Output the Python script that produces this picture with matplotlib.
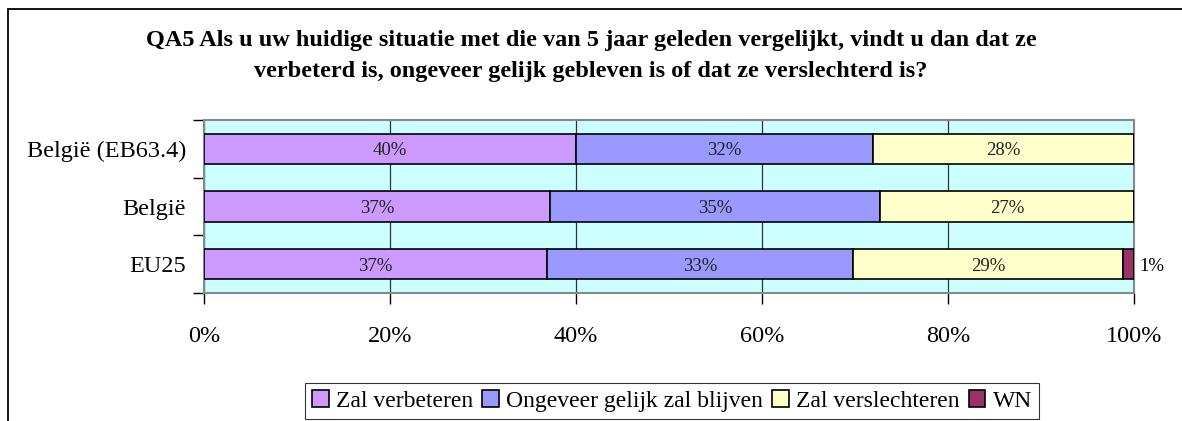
import numpy as np
import matplotlib.pyplot as plt
from matplotlib.patches import Rectangle

plt.rcParams['font.family'] = ['Liberation Serif', 'DejaVu Serif']

categories = ['België (EB63.4)', 'België', 'EU25']
series = ['Zal verbeteren', 'Ongeveer gelijk zal blijven', 'Zal verslechteren', 'WN']
values = [
    [40.0, 37.2, 36.9],
    [31.9, 35.5, 32.9],
    [28.1, 27.3, 29.0],
    [0.0, 0.0, 1.2],
]
labels = [
    ['40%', '37%', '37%'],
    ['32%', '35%', '33%'],
    ['28%', '27%', '29%'],
    ['', '', '1%'],
]
colors = ['#CC99FF', '#9999FF', '#FFFFCC', '#993366']

fig = plt.figure(figsize=(11.82, 4.21), dpi=100)
ax = fig.add_axes([204/1182, 1 - 293/421, 930/1182, 173/421])
ax.set_facecolor('#CCFFFF')

y = np.arange(len(categories))
left = np.zeros(len(categories))
for i, s in enumerate(series):
    v = np.array(values[i], dtype=float)
    ax.barh(y, v, left=left, height=0.53, color=colors[i],
            edgecolor='black', linewidth=1.2, label=s, zorder=3)
    for j in range(len(categories)):
        if labels[i][j] == '':
            continue
        if i == 3:
            ax.text(left[j] + v[j] + 0.6, y[j], labels[i][j], ha='left',
                    va='center_baseline', fontsize=13.5, zorder=4)
        else:
            ax.text(left[j] + v[j] / 2, y[j], labels[i][j], ha='center',
                    va='center_baseline', fontsize=13.5, color='#222222', zorder=4)
    left += v

ax.set_xlim(0, 100)
ax.set_ylim(2.5, -0.5)
ax.set_xticks(np.arange(0, 101, 20))
ax.set_xticklabels([f'{t}%' for t in range(0, 101, 20)], fontsize=17.5)
ax.set_yticks(y)
ax.set_yticklabels(categories, fontsize=17.5)
ax.tick_params(axis='y', length=0, pad=13)
ax.set_yticks([-0.5, 0.5, 1.5, 2.5], minor=True)
ax.tick_params(axis='y', which='minor', length=8, width=1, color='black')
ax.tick_params(axis='x', length=8, width=1, color='black', pad=16)
ax.grid(axis='x', color='#333333', linewidth=0.9, zorder=1)
for side in ['top', 'right', 'left', 'bottom']:
    ax.spines[side].set_color('#888888')
    ax.spines[side].set_linewidth(1.5)

fig.text(0.5, 1 - 56/421,
         'QA5 Als u uw huidige situatie met die van 5 jaar geleden vergelijkt, vindt u dan dat ze\n'
         'verbeterd is, ongeveer gelijk gebleven is of dat ze verslechterd is?',
         ha='center', va='center', fontsize=17.5, fontweight='bold', linespacing=1.65)

leg = fig.legend(loc='center', bbox_to_anchor=(672/1182, 1 - 401/421), ncol=4,
                 fontsize=17, frameon=True, fancybox=False, edgecolor='black',
                 handlelength=0.7, handleheight=0.7, handletextpad=0.3,
                 columnspacing=0.4, borderpad=0.3)
leg.get_frame().set_linewidth(0.8)

fig.patches.append(Rectangle((8/1182, -0.1), 1.2, 1 - 9/421 + 0.1, transform=fig.transFigure,
                             fill=False, edgecolor='black', linewidth=1.3))

fig.savefig('out.png', dpi=100)
